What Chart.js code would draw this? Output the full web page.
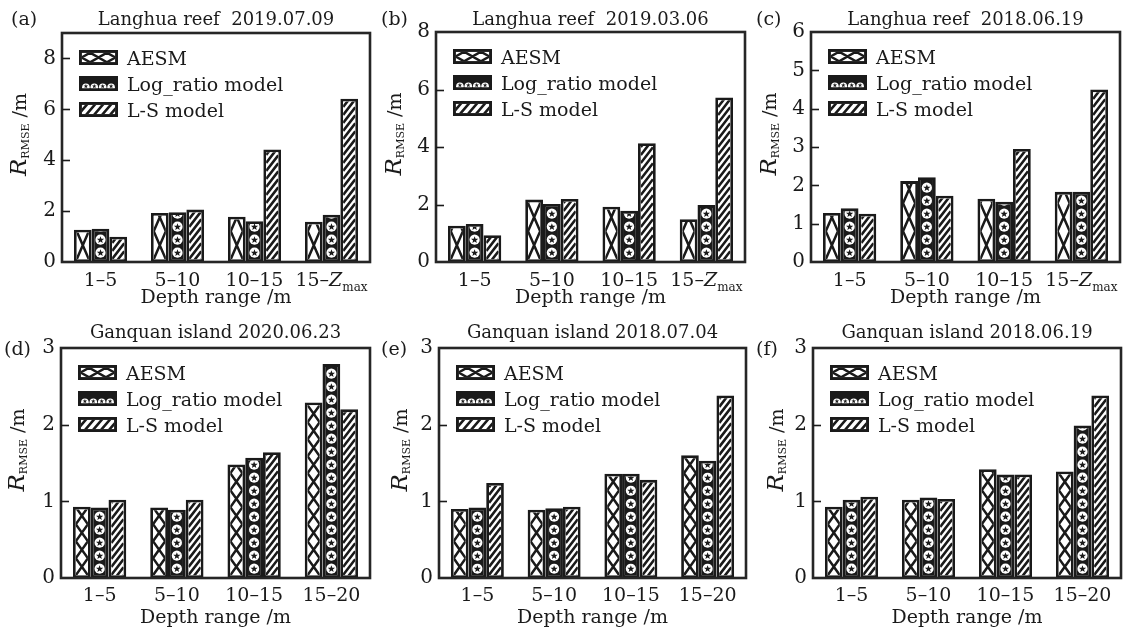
<!DOCTYPE html>
<html><head><meta charset="utf-8">
<script src="https://cdn.jsdelivr.net/npm/chart.js@4.4.0/dist/chart.umd.min.js"></script>
<style>
html,body{margin:0;padding:0;background:#fff;width:1126px;height:631px;overflow:hidden;position:relative}
canvas{position:absolute;display:block}
</style></head><body>
<script>
// ---------------- data ----------------
const SERIES = ['AESM', 'Log_ratio model', 'L-S model'];
const CATS_TOP = ['1–5', '5–10', '10–15', '15–Z_max'];
const CATS_BOTTOM = ['1–5', '5–10', '10–15', '15–20'];
const TITLES = ['Langhua reef  2019.07.09', 'Langhua reef  2019.03.06', 'Langhua reef  2018.06.19',
                'Ganquan island 2020.06.23', 'Ganquan island 2018.07.04', 'Ganquan island 2018.06.19'];
const TAGS = ['(a)', '(b)', '(c)', '(d)', '(e)', '(f)'];
const Y_MAX = [9, 8, 6, 3, 3, 3];
const Y_STEP = [2, 2, 1, 1, 1, 1];
const X_TITLE = 'Depth range /m';

const AESM_A = [1.27, 1.93, 1.78, 1.58];
const LOG_A  = [1.31, 1.96, 1.60, 1.86];
const LS_A   = [0.99, 2.06, 4.42, 6.42];

const AESM_B = [1.26, 2.17, 1.92, 1.49];
const LOG_B  = [1.32, 2.02, 1.78, 1.98];
const LS_B   = [0.93, 2.19, 4.13, 5.72];

const AESM_C = [1.28, 2.11, 1.65, 1.83];
const LOG_C  = [1.40, 2.21, 1.57, 1.83];
const LS_C   = [1.26, 1.73, 2.95, 4.50];

const AESM_D = [0.93, 0.92, 1.48, 2.29];
const LOG_D  = [0.92, 0.89, 1.57, 2.79];
const LS_D   = [1.02, 1.02, 1.64, 2.20];

const AESM_E = [0.90, 0.89, 1.36, 1.60];
const LOG_E  = [0.92, 0.91, 1.36, 1.53];
const LS_E   = [1.24, 0.93, 1.28, 2.38];

const AESM_F = [0.93, 1.02, 1.42, 1.39];
const LOG_F  = [1.02, 1.05, 1.35, 1.99];
const LS_F   = [1.06, 1.03, 1.35, 2.38];

const PANEL_DATA = [
  [AESM_A, LOG_A, LS_A], [AESM_B, LOG_B, LS_B], [AESM_C, LOG_C, LS_C],
  [AESM_D, LOG_D, LS_D], [AESM_E, LOG_E, LS_E], [AESM_F, LOG_F, LS_F]
];
const PANEL_CATS = [CATS_TOP, CATS_TOP, CATS_TOP, CATS_BOTTOM, CATS_BOTTOM, CATS_BOTTOM];

// ---------------- layout / style ----------------
const FONT = '"DejaVu Serif", serif';
const INK = '#1a1a1a';
const CANVAS = [
  {x: 0, y: 0, w: 375, h: 315}, {x: 375, y: 0, w: 375, h: 315}, {x: 750, y: 0, w: 376, h: 315},
  {x: 0, y: 315, w: 375, h: 316}, {x: 375, y: 315, w: 375, h: 316}, {x: 750, y: 315, w: 376, h: 316}
];
const AREA = [
  [62, 33, 370, 262], [436, 32, 745, 262], [811, 32, 1120, 262],
  [61, 348, 370, 578], [439, 348, 746, 578], [813, 348, 1121, 578]
];
const CROSS_H = [28, 28, 28, 17, 17, 17];
const TAG_X = [11, 6, 6, 4, 6, 6];
const TAG_BASE = [25, 25, 25, 40, 40, 40];
const TITLE_BASE = [25, 25, 25, 23, 23, 23];
const YT_X = [26, 26, 26, 24, 32, 33];
const XL_OFF = [17, 17, 17, 16, 16, 16];
const XT_OFF = [34, 34, 34, 38, 38, 38];
const BORDER = 2.8;

function starPath(ctx, cx, cy, ro, ri) {
  ctx.beginPath();
  for (let k = 0; k < 10; k++) {
    const a = -Math.PI / 2 + k * Math.PI / 5;
    const r = k % 2 ? ri : ro;
    const px = cx + r * Math.cos(a), py = cy + r * Math.sin(a);
    if (k === 0) ctx.moveTo(px, py); else ctx.lineTo(px, py);
  }
  ctx.closePath();
}

function drawCross(ctx, L, T, R, B, cellH) {
  ctx.strokeStyle = INK; ctx.lineWidth = 2.5;
  ctx.beginPath();
  for (let y0 = B; y0 > T - cellH; y0 -= cellH) {
    ctx.moveTo(L, y0); ctx.lineTo(R, y0 - cellH);
    ctx.moveTo(R, y0); ctx.lineTo(L, y0 - cellH);
  }
  ctx.stroke();
}
function drawLogDots(ctx, L, T, R, B, period) {
  const W = R - L, cx = (L + R) / 2;
  for (let cy = B - period / 2; cy > T - period / 2; cy -= period) {
    ctx.fillStyle = '#fff';
    ctx.beginPath(); ctx.arc(cx, cy, Math.min(W * 0.42, period * 0.44), 0, Math.PI * 2); ctx.fill();
    ctx.fillStyle = INK;
    starPath(ctx, cx, cy + 0.3, 3.8, 1.6); ctx.fill();
  }
}
function drawHatch(ctx, L, T, R, B, step, slope) {
  const W = R - L, rise = W * slope;
  ctx.strokeStyle = INK; ctx.lineWidth = 2.6;
  ctx.beginPath();
  for (let y0 = B + rise + step; y0 > T - step; y0 -= step) {
    ctx.moveTo(L, y0); ctx.lineTo(R, y0 - rise);
  }
  ctx.stroke();
}

function drawPieces(ctx, pieces, x, y, align) {
  let total = 0;
  pieces.forEach(p => { ctx.font = p.f; p.w = ctx.measureText(p.t).width; total += p.w; });
  let cx = align === 'center' ? x - total / 2 : x;
  pieces.forEach(p => { ctx.font = p.f; ctx.fillText(p.t, cx, y + (p.dy || 0)); cx += p.w; });
}

function labelPieces(lbl, size) {
  if (lbl.indexOf('Z_') >= 0) {
    const [pre, rest] = lbl.split('Z_');
    return [{t: pre, f: `${size}px ${FONT}`}, {t: 'Z', f: `italic ${size}px ${FONT}`},
            {t: rest, f: `12px ${FONT}`, dy: 5}];
  }
  return [{t: lbl, f: `${size}px ${FONT}`}];
}

function makePlugin(i) {
  return {
    id: 'deco' + i,
    afterDatasetsDraw(chart) {
      const ctx = chart.ctx;
      chart.data.datasets.forEach((ds, di) => {
        const meta = chart.getDatasetMeta(di);
        const bw = ds.borderWidth;
        meta.data.forEach(el => {
          const p = el.getProps(['x', 'y', 'base', 'width'], true);
          const L = p.x - p.width / 2 + bw, R = p.x + p.width / 2 - bw;
          const T = p.y + bw, B = p.base - bw;
          if (B <= T) return;
          ctx.save();
          ctx.beginPath(); ctx.rect(L, T, R - L, B - T); ctx.clip();
          if (di === 0) drawCross(ctx, L, T, R, B, CROSS_H[i]);
          else if (di === 1) drawLogDots(ctx, L, T, R, B, 13);
          else drawHatch(ctx, L, T, R, B, 8, 1.3);
          ctx.restore();
        });
      });
    },
    afterDraw(chart) {
      const ctx = chart.ctx, a = chart.chartArea;
      const ys = chart.scales.y, xs = chart.scales.x;
      ctx.save();
      // frame
      ctx.strokeStyle = '#262626'; ctx.lineWidth = 2.6;
      ctx.strokeRect(a.left, a.top, a.right - a.left, a.bottom - a.top);
      // inward ticks
      ctx.lineWidth = 1.6; ctx.strokeStyle = INK;
      ys.ticks.forEach(t => {
        if (t.value <= 0 || t.value >= Y_MAX[i]) return;
        const y = Math.round(ys.getPixelForValue(t.value)) + 0.5;
        ctx.beginPath(); ctx.moveTo(a.left, y); ctx.lineTo(a.left + 8, y); ctx.stroke();
      });
      ctx.fillStyle = INK; ctx.textBaseline = 'alphabetic'; ctx.textAlign = 'left';
      // x labels
      chart.data.labels.forEach((lbl, k) => {
        const x = xs.getPixelForValue(k);
        drawPieces(ctx, labelPieces(lbl, 19), x, a.bottom + XL_OFF[i] + 7, 'center');
      });
      // x title
      drawPieces(ctx, [{t: X_TITLE, f: `19px ${FONT}`}], (a.left + a.right) / 2, a.bottom + XT_OFF[i] + 7, 'center');
      // y title
      ctx.save();
      ctx.translate(YT_X[i], (a.top + a.bottom) / 2 - 13);
      ctx.rotate(-Math.PI / 2);
      drawPieces(ctx, [{t: 'R', f: `italic 23px ${FONT}`}, {t: 'RMSE', f: `11px ${FONT}`, dy: 3},
                       {t: ' /m', f: `19px ${FONT}`}], 0, 0, 'center');
      ctx.restore();
      // title & tag
      drawPieces(ctx, [{t: TITLES[i], f: `18px ${FONT}`}], (a.left + a.right) / 2, TITLE_BASE[i], 'center');
      drawPieces(ctx, [{t: TAGS[i], f: `19px ${FONT}`}], TAG_X[i], TAG_BASE[i], 'left');
      // legend
      const bx = a.left + 17, bwid = 39, bh = 15;
      SERIES.forEach((name, k) => {
        const cy = a.top + 24.5 + k * 26;
        const L = bx, T = cy - bh / 2;
        ctx.fillStyle = INK; ctx.fillRect(L, T, bwid, bh);
        const iL = L + 2.7, iT = T + 2.7, iR = L + bwid - 2.7, iB = T + bh - 2.7;
        ctx.save();
        ctx.beginPath(); ctx.rect(iL, iT, iR - iL, iB - iT); ctx.clip();
        if (k === 0) {
          ctx.fillStyle = '#fff'; ctx.fillRect(iL, iT, iR - iL, iB - iT);
          const cw = (iR - iL) / 2;
          ctx.strokeStyle = INK; ctx.lineWidth = 2.5; ctx.beginPath();
          for (let j = -1; j < 3; j++) {
            const x0 = iL - cw / 2 + j * cw;
            ctx.moveTo(x0, iB); ctx.lineTo(x0 + cw, iT);
            ctx.moveTo(x0 + cw, iB); ctx.lineTo(x0, iT);
          }
          ctx.stroke();
        } else if (k === 1) {
          for (let j = 0; j < 4; j++) {
            const cx = iL + (j + 0.5) * (iR - iL) / 4;
            ctx.fillStyle = '#fff'; ctx.beginPath(); ctx.arc(cx, iB - 1, 3.8, 0, Math.PI * 2); ctx.fill();
            ctx.fillStyle = INK; starPath(ctx, cx, iB - 2, 2.4, 1); ctx.fill();
          }
        } else {
          ctx.fillStyle = '#fff'; ctx.fillRect(iL, iT, iR - iL, iB - iT);
          ctx.strokeStyle = INK; ctx.lineWidth = 2.6; ctx.beginPath();
          for (let x0 = iL - 12; x0 < iR + 12; x0 += 8) {
            ctx.moveTo(x0, iB + 1); ctx.lineTo(x0 + 10, iT - 1);
          }
          ctx.stroke();
        }
        ctx.restore();
        ctx.fillStyle = INK; ctx.textBaseline = 'alphabetic';
        drawPieces(ctx, [{t: name, f: `19px ${FONT}`}], L + bwid + 9, cy + 7, 'left');
      });
      ctx.restore();
    }
  };
}

function makePanel(i) {
  const C = CANVAS[i], A = AREA[i];
  const cv = document.createElement('canvas');
  cv.width = C.w; cv.height = C.h;
  cv.style.left = C.x + 'px'; cv.style.top = C.y + 'px';
  cv.style.width = C.w + 'px'; cv.style.height = C.h + 'px';
  document.body.appendChild(cv);
  const fills = ['#ffffff', INK, '#ffffff'];
  new Chart(cv, {
    type: 'bar',
    data: {
      labels: PANEL_CATS[i],
      datasets: SERIES.map((name, k) => ({
        label: name, data: PANEL_DATA[i][k],
        backgroundColor: fills[k], borderColor: INK, borderWidth: BORDER, borderSkipped: false,
        categoryPercentage: 0.69, barPercentage: 1.0
      }))
    },
    options: {
      responsive: false, animation: false, devicePixelRatio: 1,
      layout: {padding: {left: 0, top: A[1] - C.y, right: C.x + C.w - A[2], bottom: 0}},
      plugins: {legend: {display: false}, tooltip: {enabled: false}, title: {display: false}},
      scales: {
        x: {grid: {display: false, drawTicks: false}, border: {display: false}, ticks: {display: false},
            afterFit(s) { s.height = C.y + C.h - A[3]; }},
        y: {min: 0, max: Y_MAX[i], grid: {display: false, drawTicks: false}, border: {display: false},
            ticks: {stepSize: Y_STEP[i], includeBounds: false, padding: 6, color: INK,
                    font: {family: FONT, size: 20}},
            afterFit(s) { s.width = A[0] - C.x; }}
      }
    },
    plugins: [makePlugin(i)]
  });
}
for (let i = 0; i < 6; i++) makePanel(i);
</script>
</body></html>
